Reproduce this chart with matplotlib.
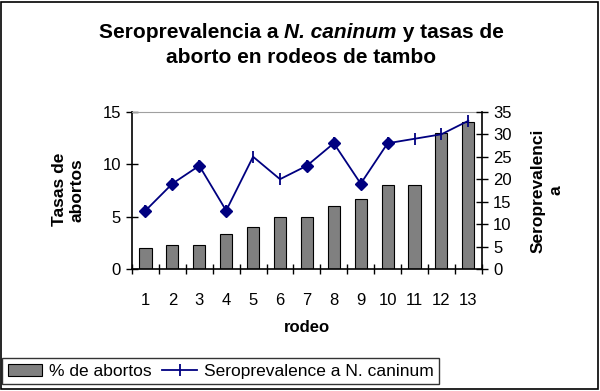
import numpy as np
import matplotlib.pyplot as plt
from matplotlib.patches import Rectangle, Patch
from matplotlib.lines import Line2D

plt.rcParams['font.family'] = ['Liberation Sans', 'DejaVu Sans']

rodeo = ['1', '2', '3', '4', '5', '6', '7', '8', '9', '10', '11', '12', '13']
abortos = [2.0, 2.3, 2.3, 3.35, 4.0, 5.0, 5.0, 6.0, 6.67, 8.0, 8.0, 13.0, 14.0]
seroprev = [13, 19, 23, 13, 25, 20, 23, 28, 19, 28, 29, 30, 33]
# points drawn with a diamond in the original
diamante = [True, True, True, True, False, False, True, True, True, True, False, False, False]

fig = plt.figure(figsize=(6, 3.91), dpi=100)
ax = fig.add_axes([0.22, 0.312, 0.583, 0.402])
x = np.arange(len(rodeo))

ax.bar(x, abortos, width=0.45, color='#808080', edgecolor='black', linewidth=0.8, zorder=2)
ax.set_xlim(-0.5, len(rodeo) - 0.5)
ax.set_ylim(0, 15)
ax.set_yticks([0, 5, 10, 15])
ax.set_xticks(x)
ax.set_xticklabels(rodeo)
ax.set_xticks(np.arange(-0.5, len(rodeo), 1), minor=True)
ax.tick_params(axis='x', which='major', length=0, pad=17, labelsize=12)
ax.tick_params(axis='x', which='minor', direction='inout', length=7, width=1)
ax.tick_params(axis='y', direction='inout', length=8, width=1, labelsize=12, pad=4)
ax.spines['right'].set_visible(False)
ax.spines['top'].set_color('#a0a0a0')
ax.spines['top'].set_linewidth(0.8)
ax.spines['left'].set_linewidth(1.2)
ax.spines['bottom'].set_linewidth(1.2)

ax2 = ax.twinx()
ax2.plot(x, seroprev, color='#000080', linewidth=1.3, marker='|', markersize=9,
         markeredgewidth=1.3, zorder=3)
xd = [xi for xi, d in zip(x, diamante) if d]
yd = [yi for yi, d in zip(seroprev, diamante) if d]
ax2.plot(xd, yd, linestyle='none', marker='D', markersize=6, color='#000080', zorder=4)
ax2.set_ylim(0, 35)
ax2.set_yticks(np.arange(0, 36, 5))
ax2.tick_params(axis='y', direction='inout', length=8, width=1, labelsize=12, pad=4)
for s in ['left', 'top', 'bottom']:
    ax2.spines[s].set_visible(False)
ax2.spines['right'].set_linewidth(1.2)

# title, first line in three pieces (italic species name)
piezas = [('Seroprevalencia a ', 'normal'), ('N. caninum', 'italic'), (' y tasas de', 'normal')]
renderer = fig.canvas.get_renderer()
textos = []
for txt, estilo in piezas:
    t = fig.text(0, 0.918, txt, ha='left', va='center', fontsize=15,
                 fontweight='heavy', fontstyle=estilo)
    textos.append(t)
anchos = [t.get_window_extent(renderer).width / fig.bbox.width for t in textos]
x0 = 0.502 - sum(anchos) / 2
for t, w in zip(textos, anchos):
    t.set_x(x0)
    x0 += w
fig.text(0.502, 0.853, 'aborto en rodeos de tambo',
         ha='center', va='center', fontsize=15, fontweight='heavy')

fig.text(0.114, 0.515, 'Tasas de\nabortos', rotation=90, ha='center', va='center',
         fontsize=12.5, fontweight='bold', linespacing=1.25)
fig.text(0.912, 0.513, 'Seroprevalenci\na', rotation=90, ha='center', va='center',
         fontsize=12.5, fontweight='bold', linespacing=1.25)
fig.text(0.512, 0.163, 'rodeo', ha='center', va='center', fontsize=12, fontweight='bold')

handles = [Patch(facecolor='#808080', edgecolor='black', linewidth=0.8),
           Line2D([], [], color='#000080', linewidth=1.3, marker='|', markersize=9,
                  markeredgewidth=1.3)]
leg = fig.legend(handles, ['% de abortos', 'Seroprevalence a N. caninum'], ncol=2,
                 loc='lower left', bbox_to_anchor=(0.004, 0.018), fontsize=12.5,
                 frameon=True, fancybox=False, borderpad=0.3, handlelength=2.0,
                 handletextpad=0.4, columnspacing=0.6, borderaxespad=0)
leg.get_frame().set_edgecolor('black')
leg.get_frame().set_linewidth(1.0)

fig.add_artist(Rectangle((0.002, 0.004), 0.995, 0.992, transform=fig.transFigure,
                         fill=False, edgecolor='black', linewidth=1.2))

fig.savefig('out.png', dpi=100)
